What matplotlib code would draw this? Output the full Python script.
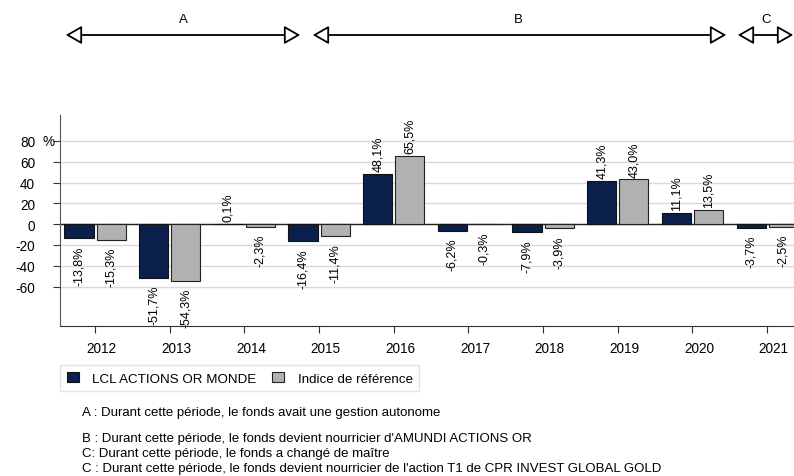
import numpy as np
import matplotlib.pyplot as plt
import matplotlib.patches as mpatches
import matplotlib.transforms as mtrans

plt.rcParams['font.family'] = ['Liberation Sans', 'DejaVu Sans']

years = ['2012', '2013', '2014', '2015', '2016', '2017', '2018', '2019', '2020', '2021']
fund = [-13.8, -51.7, 0.1, -16.4, 48.1, -6.2, -7.9, 41.3, 11.1, -3.7]
index = [-15.3, -54.3, -2.3, -11.4, 65.5, -0.3, -3.9, 43.0, 13.5, -2.5]
fund_name = 'LCL ACTIONS OR MONDE'
index_name = 'Indice de référence'
yticks = [-60, -40, -20, 0, 20, 40, 60, 80]

periods = ['A', 'B', 'C']
notes = [
    "A : Durant cette période, le fonds avait une gestion autonome",
    "B : Durant cette période, le fonds devient nourricier d'AMUNDI ACTIONS OR",
    "C: Durant cette période, le fonds a changé de maître",
    "C : Durant cette période, le fonds devient nourricier de l'action T1 de CPR INVEST GLOBAL GOLD",
]

dark = '#0b1f4d'
grey = '#b1b1b1'

fig = plt.figure(figsize=(7.94, 4.77), dpi=100)
W, H = 794, 477
ax = fig.add_axes([60 / W, 1 - 327 / H, 734 / W, (327 - 116) / H])

x = np.arange(len(years))
w = 0.39
off = 0.215
ax.axhline(0, color='#222222', linewidth=1, zorder=2)
ax.bar(x - off, fund, w, color=dark, edgecolor='#111111', linewidth=0.8, zorder=3, label=fund_name)
ax.bar(x + off, index, w, color=grey, edgecolor='#222222', linewidth=0.8, zorder=3, label=index_name)

def fmt(v):
    return ('%.1f%%' % v).replace('.', ',')

for xs, vals in ((x - off, fund), (x + off, index)):
    for xi, v in zip(xs, vals):
        if v >= 0:
            ax.annotate(fmt(v), (xi, v), xytext=(0, 2), textcoords='offset points',
                        rotation=90, ha='center', va='bottom', fontsize=9)
        else:
            ax.annotate(fmt(v), (xi, v), xytext=(0, -5), textcoords='offset points',
                        rotation=90, ha='center', va='top', fontsize=9)

ax.set_xlim(-0.47, 9.36)
ax.set_ylim(-98, 105)
ax.set_yticks(yticks)
ax.set_yticklabels([str(t) for t in yticks], fontsize=9.8)
ax.set_xticks(x)
ax.set_xticklabels(years, fontsize=9.8)
ax.tick_params(axis='x', length=5, color='#333333', pad=6)
ax.tick_params(axis='y', length=5, color='#333333', pad=13)
# year labels sit a little right of their ticks
shift = mtrans.ScaledTranslation(6.6 / 100, 0, fig.dpi_scale_trans)
for lab in ax.get_xticklabels():
    lab.set_transform(lab.get_transform() + shift)
# percent sign after the top label
ax.annotate('%', (0, yticks[-1]), xycoords=('axes fraction', 'data'), xytext=(-18 / 100 * 72, 0),
            textcoords='offset points', ha='left', va='center', fontsize=9.8)

ax.grid(axis='y', color='#d9d9d9', linewidth=1, zorder=0)
for s in ('top', 'right'):
    ax.spines[s].set_visible(False)
ax.spines['left'].set_color('#555555')
ax.spines['bottom'].set_color('#333333')

# period arrows at top
spans = [(63, 303), (310, 729), (735, 796)]
label_x = [183, 518, 766]
for (x0, x1), name, lx in zip(spans, periods, label_x):
    fig.patches.append(mpatches.FancyArrowPatch(
        (x0 / W, 1 - 36 / H), (x1 / W, 1 - 36 / H), transform=fig.transFigure,
        arrowstyle='<|-|>,head_length=0.7,head_width=0.4', mutation_scale=14,
        facecolor='white', edgecolor='black', linewidth=1.3))
    fig.text(lx / W, 1 - 20 / H, name, ha='center', va='center', fontsize=9.5)

# legend
leg = fig.legend(loc='upper left', bbox_to_anchor=(60 / W, 1 - 366 / H), ncol=2, frameon=True,
                 fontsize=9.6, handlelength=0.9, handleheight=0.85, columnspacing=1.2,
                 handletextpad=1.0, borderpad=0.5, borderaxespad=0, fancybox=False)
leg.get_frame().set_edgecolor('#dddddd')
leg.get_frame().set_linewidth(1)

ys = [413, 439, 454, 469]
for t, yy in zip(notes, ys):
    fig.text(82 / W, 1 - yy / H, t, ha='left', va='center', fontsize=9.5)

fig.savefig('out.png', dpi=100)
